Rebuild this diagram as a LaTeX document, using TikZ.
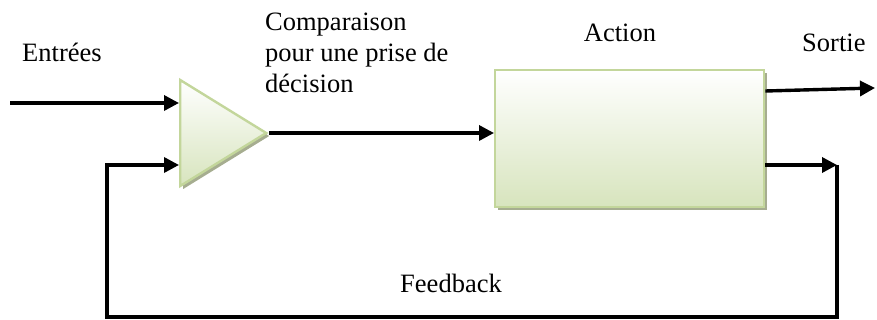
\documentclass[tikz,border=0pt]{standalone}
\usepackage{fontspec}
\setmainfont{Liberation Serif}
\usetikzlibrary{%
    arrows.meta,
    calc,
    positioning,
    shadows,
    shapes.geometric
}
\definecolor{blockedge}{HTML}{C3D69B}
\definecolor{blockfill}{HTML}{D7E4BD}
\definecolor{blockshade}{HTML}{A6AD90}
\tikzset{headarrow/.style = {-{Triangle[length=15pt,width=15pt]}}}
\tikzset{sig/.style = {line width=3.4pt,headarrow}}
\tikzset{lbl/.style = {inner sep=0pt,font=\rmfamily\fontsize{26.5}{31}\selectfont}}
\tikzset{block/.style = {draw=blockedge,line width=2.4pt,top color=white,bottom color=blockfill,
    drop shadow={shadow xshift=3pt,shadow yshift=-3pt,fill=blockshade,opacity=1}}}

\begin{document}
\begin{tikzpicture}[x=1pt,y=-1pt]
    \useasboundingbox (0,0) rectangle (877,320);

    \node[block,isosceles triangle,isosceles triangle stretches,
          minimum height=86pt,minimum width=106pt,inner sep=0pt,anchor=west]
                (cmp) at (179,133) {};
    \node[block,minimum width=269pt,minimum height=137pt,anchor=north west]
                (act) at (494,69) {};

    \node[lbl,anchor=base west] (inlbl) at (22,62) {Entrées};
    \node[lbl,anchor=base west,align=left] (cmplbl) at (265,93)
        {Comparaison\\pour une prise de\\décision};
    \node[lbl,anchor=base] (actlbl) at (620,42) {Action};
    \node[lbl,anchor=base west] (outlbl) at (802,52) {Sortie};
    \node[lbl,anchor=base] (fblbl) at (451,292) {Feedback};

    \coordinate (src) at (10,103);
    \coordinate (dst) at (875,88);
    \coordinate (fbr) at (837,165);
    \coordinate (fbl) at (107,317);

    \draw[sig] (src) -- (src -| cmp.west);
    \draw[sig] (cmp.apex) -- (cmp.apex -| act.west);
    \draw[sig] ($(act.north east)+(0,22)$) -- (dst);
    \draw[sig] (fbr -| act.east) -- (fbr);
    \draw[sig] (fbr) |- (fbl) |- ($(cmp.west)+(0,32)$);
\end{tikzpicture}
\end{document}
